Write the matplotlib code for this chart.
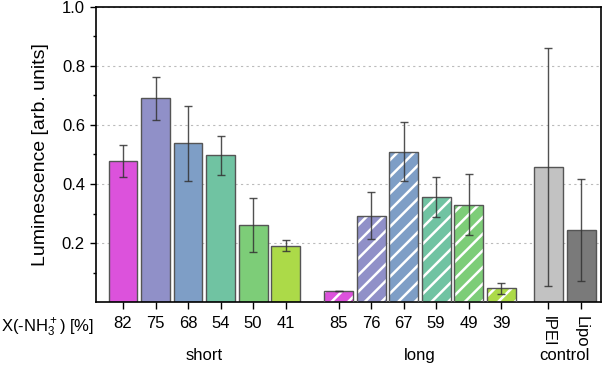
import numpy as np
import matplotlib
matplotlib.use("Agg")
import matplotlib.pyplot as plt

plt.rcParams["font.family"] = ["Liberation Sans", "DejaVu Sans"]
plt.rcParams["mathtext.default"] = "regular"
plt.rcParams["hatch.linewidth"] = 1.8

# ── Data ─────────────────────────────────────────────────────────────────
short_labels = ["82", "75", "68", "54", "50", "41"]
short_vals   = [0.478, 0.690, 0.538, 0.498, 0.261, 0.191]
short_err    = [0.053, 0.072, 0.128, 0.066, 0.090, 0.019]

long_labels = ["85", "76", "67", "59", "49", "39"]
long_vals   = [0.037, 0.292, 0.510, 0.355, 0.330, 0.046]
long_err    = [0.000, 0.080, 0.101, 0.068, 0.104, 0.020]

ctrl_labels = ["lPEI", "Lipo"]
ctrl_vals   = [0.457, 0.243]
ctrl_err    = [0.403, 0.173]

COLORS = ["#DC52DC", "#9090C8", "#7E9EC6", "#70C3A2", "#7DCD78", "#ACDA48"]
CTRL_COLORS = ["#C2C2C2", "#7A7A7A"]

x_short = np.arange(6)
x_long  = np.arange(6) + 6.63
x_ctrl  = np.array([13.08, 14.1])
W = 0.89
EDGE = "#555555"
ERR = dict(ecolor="#333333", elinewidth=1.0, capsize=3, capthick=1.0, alpha=0.85)

# ── Plot ─────────────────────────────────────────────────────────────────
fig = plt.figure(figsize=(6.02, 3.65), dpi=100)
ax = fig.add_axes([96 / 602, 63 / 365, 505 / 602, 295 / 365])

ax.bar(x_short, short_vals, W, color=COLORS, edgecolor=EDGE, linewidth=1.0, zorder=2)
ax.errorbar(x_short, short_vals, yerr=short_err, fmt="none", zorder=4, **ERR)

ax.bar(x_long, long_vals, W, color=COLORS, edgecolor="none", linewidth=0, zorder=2)
ax.bar(x_long, long_vals, W, color="none", edgecolor="white", hatch="//", linewidth=0, zorder=2)
ax.bar(x_long, long_vals, W, fill=False, edgecolor=EDGE, linewidth=1.0, zorder=3)
ax.errorbar(x_long, long_vals, yerr=long_err, fmt="none", zorder=4, **ERR)

ax.bar(x_ctrl, ctrl_vals, W, color=CTRL_COLORS, edgecolor=EDGE, linewidth=1.0, zorder=2)
ax.errorbar(x_ctrl, ctrl_vals, yerr=ctrl_err, fmt="none", zorder=4, **ERR)

ax.set_xlim(-0.83, 14.7)
ax.set_ylim(0, 1.0)
ax.set_yticks([0.2, 0.4, 0.6, 0.8, 1.0])
ax.set_yticks(np.arange(0.1, 1.0, 0.2), minor=True)
ax.set_ylabel("Luminescence [arb. units]", fontsize=14, labelpad=9)
ax.yaxis.grid(True, linestyle=(0, (2, 3)), color="#BBBBBB", linewidth=0.8, zorder=0)
ax.set_axisbelow(True)

xs = np.concatenate([x_short, x_long, x_ctrl])
ax.set_xticks(xs)
ax.set_xticklabels(short_labels + long_labels + ctrl_labels, fontsize=12)
for lab in ax.get_xticklabels()[-2:]:
    lab.set_rotation(-90)

ax.tick_params(axis="x", direction="out", length=5, width=1.0, pad=5)
ax.tick_params(axis="y", which="major", direction="out", length=4.5, width=1.0, labelsize=12)
ax.tick_params(axis="y", which="minor", direction="out", length=2.5, width=1.0)
for sp in ax.spines.values():
    sp.set_linewidth(1.2)

ax.text(-0.003, -0.088, r"X(-NH$_3^+$) [%]", transform=ax.transAxes,
        ha="right", va="center", fontsize=12)

for xc, name in [(x_short.mean(), "short"), (x_long.mean(), "long"), (x_ctrl.mean(), "control")]:
    ax.text(xc, -0.18, name, transform=ax.get_xaxis_transform(),
            ha="center", va="center", fontsize=12)

plt.savefig("out.png", dpi=100)
plt.close()
